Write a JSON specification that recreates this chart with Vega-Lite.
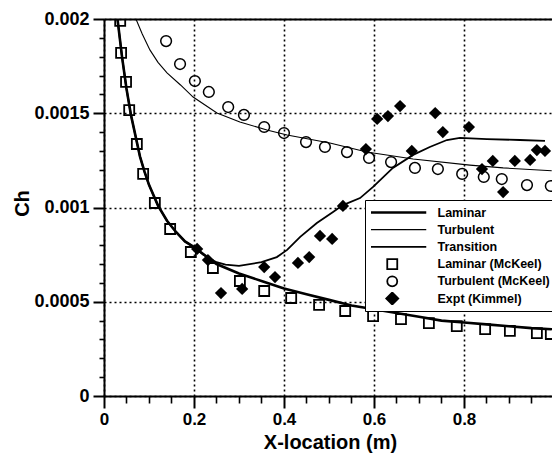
{
  "$schema": "https://vega.github.io/schema/vega-lite/v6.json",
  "width": 448,
  "height": 377,
  "autosize": "none",
  "padding": {"left": 104, "top": 19, "right": 0, "bottom": 61},
  "background": "white",
  "config": {"view": {"stroke": null}},
  "datasets": {
    "lines": [
      {"series": "Laminar", "x": 0.03, "ch": 0.002},
      {"series": "Laminar", "x": 0.04, "ch": 0.0018},
      {"series": "Laminar", "x": 0.05, "ch": 0.00163},
      {"series": "Laminar", "x": 0.06, "ch": 0.00149},
      {"series": "Laminar", "x": 0.07, "ch": 0.00138},
      {"series": "Laminar", "x": 0.08, "ch": 0.00127},
      {"series": "Laminar", "x": 0.09, "ch": 0.00119},
      {"series": "Laminar", "x": 0.1, "ch": 0.00112},
      {"series": "Laminar", "x": 0.12, "ch": 0.00101},
      {"series": "Laminar", "x": 0.14, "ch": 0.00093},
      {"series": "Laminar", "x": 0.16, "ch": 0.00087},
      {"series": "Laminar", "x": 0.18, "ch": 0.00082},
      {"series": "Laminar", "x": 0.2, "ch": 0.00079},
      {"series": "Laminar", "x": 0.25, "ch": 0.0007},
      {"series": "Laminar", "x": 0.3, "ch": 0.00065},
      {"series": "Laminar", "x": 0.35, "ch": 0.00061},
      {"series": "Laminar", "x": 0.4, "ch": 0.00057},
      {"series": "Laminar", "x": 0.45, "ch": 0.00054},
      {"series": "Laminar", "x": 0.5, "ch": 0.00051},
      {"series": "Laminar", "x": 0.55, "ch": 0.00048},
      {"series": "Laminar", "x": 0.6, "ch": 0.00046},
      {"series": "Laminar", "x": 0.65, "ch": 0.00044},
      {"series": "Laminar", "x": 0.7, "ch": 0.00042},
      {"series": "Laminar", "x": 0.75, "ch": 0.0004},
      {"series": "Laminar", "x": 0.8, "ch": 0.00039},
      {"series": "Laminar", "x": 0.85, "ch": 0.00038},
      {"series": "Laminar", "x": 0.9, "ch": 0.00037},
      {"series": "Laminar", "x": 0.95, "ch": 0.00036},
      {"series": "Laminar", "x": 0.995, "ch": 0.000354},
      {"series": "Turbulent", "x": 0.071, "ch": 0.002},
      {"series": "Turbulent", "x": 0.085, "ch": 0.00192},
      {"series": "Turbulent", "x": 0.102, "ch": 0.001836},
      {"series": "Turbulent", "x": 0.12, "ch": 0.00177},
      {"series": "Turbulent", "x": 0.14, "ch": 0.001714},
      {"series": "Turbulent", "x": 0.17, "ch": 0.00165},
      {"series": "Turbulent", "x": 0.198, "ch": 0.001586},
      {"series": "Turbulent", "x": 0.251, "ch": 0.001501},
      {"series": "Turbulent", "x": 0.302, "ch": 0.001454},
      {"series": "Turbulent", "x": 0.362, "ch": 0.001411},
      {"series": "Turbulent", "x": 0.407, "ch": 0.001385},
      {"series": "Turbulent", "x": 0.502, "ch": 0.001342},
      {"series": "Turbulent", "x": 0.584, "ch": 0.001294},
      {"series": "Turbulent", "x": 0.687, "ch": 0.001257},
      {"series": "Turbulent", "x": 0.813, "ch": 0.001225},
      {"series": "Turbulent", "x": 0.887, "ch": 0.00121},
      {"series": "Turbulent", "x": 0.995, "ch": 0.001195},
      {"series": "Transition", "x": 0.03, "ch": 0.002},
      {"series": "Transition", "x": 0.04, "ch": 0.0018},
      {"series": "Transition", "x": 0.05, "ch": 0.00163},
      {"series": "Transition", "x": 0.06, "ch": 0.00149},
      {"series": "Transition", "x": 0.07, "ch": 0.00138},
      {"series": "Transition", "x": 0.08, "ch": 0.00127},
      {"series": "Transition", "x": 0.09, "ch": 0.00119},
      {"series": "Transition", "x": 0.1, "ch": 0.00112},
      {"series": "Transition", "x": 0.12, "ch": 0.00101},
      {"series": "Transition", "x": 0.14, "ch": 0.00093},
      {"series": "Transition", "x": 0.16, "ch": 0.00087},
      {"series": "Transition", "x": 0.18, "ch": 0.00082},
      {"series": "Transition", "x": 0.2, "ch": 0.00079},
      {"series": "Transition", "x": 0.22, "ch": 0.00075},
      {"series": "Transition", "x": 0.25, "ch": 0.00071},
      {"series": "Transition", "x": 0.27, "ch": 0.000697},
      {"series": "Transition", "x": 0.3, "ch": 0.00069},
      {"series": "Transition", "x": 0.35, "ch": 0.00071},
      {"series": "Transition", "x": 0.384, "ch": 0.000737},
      {"series": "Transition", "x": 0.407, "ch": 0.000775},
      {"series": "Transition", "x": 0.436, "ch": 0.000844},
      {"series": "Transition", "x": 0.473, "ch": 0.000918},
      {"series": "Transition", "x": 0.509, "ch": 0.000976},
      {"series": "Transition", "x": 0.531, "ch": 0.001013},
      {"series": "Transition", "x": 0.569, "ch": 0.00105},
      {"series": "Transition", "x": 0.598, "ch": 0.001109},
      {"series": "Transition", "x": 0.642, "ch": 0.00121},
      {"series": "Transition", "x": 0.687, "ch": 0.001279},
      {"series": "Transition", "x": 0.724, "ch": 0.001321},
      {"series": "Transition", "x": 0.762, "ch": 0.001358},
      {"series": "Transition", "x": 0.791, "ch": 0.001369},
      {"series": "Transition", "x": 0.851, "ch": 0.001363},
      {"series": "Transition", "x": 0.924, "ch": 0.001358},
      {"series": "Transition", "x": 0.98, "ch": 0.001353}
    ],
    "points": [
      {"series": "Laminar (McKeel)", "x": 0.036, "ch": 0.00199},
      {"series": "Laminar (McKeel)", "x": 0.038, "ch": 0.00182},
      {"series": "Laminar (McKeel)", "x": 0.049, "ch": 0.001666},
      {"series": "Laminar (McKeel)", "x": 0.056, "ch": 0.001517},
      {"series": "Laminar (McKeel)", "x": 0.073, "ch": 0.001337},
      {"series": "Laminar (McKeel)", "x": 0.087, "ch": 0.001178},
      {"series": "Laminar (McKeel)", "x": 0.113, "ch": 0.001024},
      {"series": "Laminar (McKeel)", "x": 0.147, "ch": 0.000886},
      {"series": "Laminar (McKeel)", "x": 0.193, "ch": 0.000764},
      {"series": "Laminar (McKeel)", "x": 0.242, "ch": 0.000679},
      {"series": "Laminar (McKeel)", "x": 0.302, "ch": 0.00061},
      {"series": "Laminar (McKeel)", "x": 0.356, "ch": 0.000557},
      {"series": "Laminar (McKeel)", "x": 0.416, "ch": 0.00052},
      {"series": "Laminar (McKeel)", "x": 0.478, "ch": 0.000483},
      {"series": "Laminar (McKeel)", "x": 0.536, "ch": 0.000451},
      {"series": "Laminar (McKeel)", "x": 0.598, "ch": 0.000424},
      {"series": "Laminar (McKeel)", "x": 0.66, "ch": 0.000408},
      {"series": "Laminar (McKeel)", "x": 0.722, "ch": 0.000387},
      {"series": "Laminar (McKeel)", "x": 0.784, "ch": 0.000371},
      {"series": "Laminar (McKeel)", "x": 0.847, "ch": 0.000355},
      {"series": "Laminar (McKeel)", "x": 0.902, "ch": 0.000345},
      {"series": "Laminar (McKeel)", "x": 0.962, "ch": 0.000334},
      {"series": "Laminar (McKeel)", "x": 0.993, "ch": 0.000329},
      {"series": "Turbulent (McKeel)", "x": 0.138, "ch": 0.001883},
      {"series": "Turbulent (McKeel)", "x": 0.169, "ch": 0.001761},
      {"series": "Turbulent (McKeel)", "x": 0.202, "ch": 0.001671},
      {"series": "Turbulent (McKeel)", "x": 0.233, "ch": 0.001613},
      {"series": "Turbulent (McKeel)", "x": 0.276, "ch": 0.001533},
      {"series": "Turbulent (McKeel)", "x": 0.311, "ch": 0.001491},
      {"series": "Turbulent (McKeel)", "x": 0.356, "ch": 0.001427},
      {"series": "Turbulent (McKeel)", "x": 0.4, "ch": 0.001395},
      {"series": "Turbulent (McKeel)", "x": 0.449, "ch": 0.001347},
      {"series": "Turbulent (McKeel)", "x": 0.491, "ch": 0.001321},
      {"series": "Turbulent (McKeel)", "x": 0.54, "ch": 0.001294},
      {"series": "Turbulent (McKeel)", "x": 0.589, "ch": 0.001263},
      {"series": "Turbulent (McKeel)", "x": 0.638, "ch": 0.001241},
      {"series": "Turbulent (McKeel)", "x": 0.691, "ch": 0.00121},
      {"series": "Turbulent (McKeel)", "x": 0.742, "ch": 0.001204},
      {"series": "Turbulent (McKeel)", "x": 0.796, "ch": 0.001178},
      {"series": "Turbulent (McKeel)", "x": 0.844, "ch": 0.001162},
      {"series": "Turbulent (McKeel)", "x": 0.884, "ch": 0.001151},
      {"series": "Turbulent (McKeel)", "x": 0.94, "ch": 0.001119},
      {"series": "Turbulent (McKeel)", "x": 0.993, "ch": 0.001114},
      {"series": "Expt (Kimmel)", "x": 0.207, "ch": 0.00078},
      {"series": "Expt (Kimmel)", "x": 0.231, "ch": 0.000721},
      {"series": "Expt (Kimmel)", "x": 0.26, "ch": 0.000546},
      {"series": "Expt (Kimmel)", "x": 0.307, "ch": 0.000568},
      {"series": "Expt (Kimmel)", "x": 0.356, "ch": 0.000684},
      {"series": "Expt (Kimmel)", "x": 0.38, "ch": 0.000631},
      {"series": "Expt (Kimmel)", "x": 0.431, "ch": 0.000706},
      {"series": "Expt (Kimmel)", "x": 0.456, "ch": 0.000737},
      {"series": "Expt (Kimmel)", "x": 0.48, "ch": 0.000849},
      {"series": "Expt (Kimmel)", "x": 0.507, "ch": 0.000833},
      {"series": "Expt (Kimmel)", "x": 0.531, "ch": 0.001008},
      {"series": "Expt (Kimmel)", "x": 0.582, "ch": 0.00131},
      {"series": "Expt (Kimmel)", "x": 0.607, "ch": 0.00147},
      {"series": "Expt (Kimmel)", "x": 0.631, "ch": 0.001485},
      {"series": "Expt (Kimmel)", "x": 0.658, "ch": 0.001538},
      {"series": "Expt (Kimmel)", "x": 0.684, "ch": 0.0013},
      {"series": "Expt (Kimmel)", "x": 0.736, "ch": 0.001501},
      {"series": "Expt (Kimmel)", "x": 0.753, "ch": 0.0014},
      {"series": "Expt (Kimmel)", "x": 0.811, "ch": 0.001427},
      {"series": "Expt (Kimmel)", "x": 0.84, "ch": 0.001204},
      {"series": "Expt (Kimmel)", "x": 0.864, "ch": 0.001247},
      {"series": "Expt (Kimmel)", "x": 0.887, "ch": 0.001082},
      {"series": "Expt (Kimmel)", "x": 0.913, "ch": 0.001247},
      {"series": "Expt (Kimmel)", "x": 0.947, "ch": 0.001252},
      {"series": "Expt (Kimmel)", "x": 0.962, "ch": 0.001305},
      {"series": "Expt (Kimmel)", "x": 0.98, "ch": 0.0013}
    ]
  },
  "layer": [
    {
      "data": {"name": "lines"},
      "transform": [{"filter": "datum.series == 'Laminar'"}],
      "mark": {"type": "line", "strokeWidth": 2.6, "clip": true},
      "encoding": {
        "x": {
          "field": "x", "type": "quantitative",
          "scale": {"domain": [0, 0.9956], "nice": false, "zero": false},
          "axis": {
            "orient": "bottom",
            "values": [0, 0.2, 0.4, 0.6, 0.8],
            "format": ".1~f",
            "grid": true, "gridColor": "black", "gridDash": [2, 3], "gridWidth": 1.6, "gridOpacity": 1,
            "domainColor": "black", "domainWidth": 2,
            "tickColor": "black", "tickWidth": 2, "tickSize": 12,
            "labelFont": "Liberation Sans", "labelFontWeight": "bold", "labelFontSize": 17, "labelColor": "black",
            "labelPadding": 3, "labelFlush": false, "labelOverlap": false,
            "title": "X-location (m)",
            "titleFont": "Liberation Sans", "titleFontWeight": "bold", "titleFontSize": 20, "titleColor": "black",
            "titleX": 226, "titleY": 46, "titleAlign": "center", "titleBaseline": "middle"
          }
        },
        "y": {
          "field": "ch", "type": "quantitative",
          "scale": {"domain": [0, 0.002], "nice": false},
          "axis": {
            "orient": "left",
            "values": [0, 0.0005, 0.001, 0.0015, 0.002],
            "format": ".4~f",
            "grid": true, "gridColor": "black", "gridDash": [2, 3], "gridWidth": 1.6, "gridOpacity": 1,
            "domainColor": "black", "domainWidth": 2,
            "tickColor": "black", "tickWidth": 2, "tickSize": 11,
            "labelFont": "Liberation Sans", "labelFontWeight": "bold", "labelFontSize": 18, "labelColor": "black",
            "labelPadding": 4, "labelFlush": false, "labelOverlap": false,
            "title": "Ch",
            "titleFont": "Liberation Sans", "titleFontWeight": "bold", "titleFontSize": 20, "titleColor": "black",
            "titleX": -82, "titleY": 184, "titleAlign": "center", "titleBaseline": "middle", "titleAngle": -90
          }
        },
        "color": {
          "field": "series", "type": "nominal",
          "scale": {
            "domain": ["Laminar", "Turbulent", "Transition", "Laminar (McKeel)", "Turbulent (McKeel)", "Expt (Kimmel)"],
            "range": ["black", "black", "black", "black", "black", "black"]
          },
          "legend": {
            "orient": "none", "legendX": 261, "legendY": 181, "title": null,
            "fillColor": "white", "strokeColor": "black", "padding": 6,
            "symbolSize": 100, "labelOffset": 54, "rowPadding": 4.2, "clipHeight": 13,
            "labelFont": "Liberation Sans", "labelFontSize": 12.5, "labelFontWeight": "bold", "labelColor": "black",
            "encode": {
              "symbols": {
                "update": {
                  "shape": {"signal": "indexof(['Laminar','Turbulent','Transition'], datum.value) >= 0 ? 'M-1.6,0H9.8' : datum.value == 'Laminar (McKeel)' ? 'M2,-1H4V1H2Z' : datum.value == 'Turbulent (McKeel)' ? 'M4,0A1,1,0,1,1,2,0A1,1,0,1,1,4,0Z' : 'M3,-1.2L4.2,0L3,1.2L1.8,0Z'"},
                  "strokeWidth": {"signal": "datum.value == 'Laminar' ? 2.6 : datum.value == 'Turbulent' ? 1.2 : 1.8"},
                  "fill": {"signal": "datum.value == 'Expt (Kimmel)' ? 'black' : 'white'"},
                  "fillOpacity": {"signal": "datum.value == 'Expt (Kimmel)' ? 1 : 0"},
                  "stroke": {"value": "black"},
                  "opacity": {"value": 1}
                }
              }
            }
          }
        }
      }
    },
    {
      "data": {"name": "lines"},
      "transform": [{"filter": "datum.series == 'Turbulent'"}],
      "mark": {"type": "line", "strokeWidth": 1.1, "clip": true},
      "encoding": {
        "x": {
          "field": "x", "type": "quantitative",
          "axis": {
            "orient": "bottom",
            "values": [0.05, 0.1, 0.15, 0.25, 0.3, 0.35, 0.45, 0.5, 0.55, 0.65, 0.7, 0.75, 0.85, 0.9, 0.95],
            "labels": false, "grid": false, "domain": false,
            "tickColor": "black", "tickWidth": 1.6, "tickSize": 7, "title": null
          }
        },
        "y": {
          "field": "ch", "type": "quantitative",
          "axis": {
            "orient": "left",
            "values": [0.0001, 0.0002, 0.0003, 0.0004, 0.0006, 0.0007, 0.0008, 0.0009, 0.0011, 0.0012, 0.0013, 0.0014, 0.0016, 0.0017, 0.0018, 0.0019],
            "labels": false, "grid": false, "domain": false,
            "tickColor": "black", "tickWidth": 1.6, "tickSize": 5, "title": null
          }
        },
        "color": {"field": "series", "type": "nominal"}
      }
    },
    {
      "data": {"name": "lines"},
      "transform": [{"filter": "datum.series == 'Transition'"}],
      "mark": {"type": "line", "strokeWidth": 1.8, "clip": true},
      "encoding": {
        "x": {
          "field": "x", "type": "quantitative",
          "axis": {
            "orient": "top", "labels": false, "ticks": false, "grid": false,
            "domain": true, "domainColor": "black", "domainWidth": 2, "title": null
          }
        },
        "y": {"field": "ch", "type": "quantitative", "axis": null},
        "color": {"field": "series", "type": "nominal"}
      }
    },
    {
      "data": {"name": "points"},
      "transform": [{"filter": "datum.series == 'Laminar (McKeel)'"}],
      "mark": {"type": "point", "shape": "square", "filled": false, "size": 100, "strokeWidth": 1.8, "opacity": 1, "clip": true},
      "encoding": {
        "x": {"field": "x", "type": "quantitative", "axis": null},
        "y": {"field": "ch", "type": "quantitative", "axis": null},
        "color": {"field": "series", "type": "nominal"}
      }
    },
    {
      "data": {"name": "points"},
      "transform": [{"filter": "datum.series == 'Turbulent (McKeel)'"}],
      "mark": {"type": "point", "shape": "circle", "filled": false, "size": 115, "strokeWidth": 1.5, "opacity": 1, "clip": true},
      "encoding": {
        "x": {"field": "x", "type": "quantitative", "axis": null},
        "y": {"field": "ch", "type": "quantitative", "axis": null},
        "color": {"field": "series", "type": "nominal"}
      }
    },
    {
      "data": {"name": "points"},
      "transform": [{"filter": "datum.series == 'Expt (Kimmel)'"}],
      "mark": {"type": "point", "shape": "diamond", "filled": true, "size": 150, "opacity": 1, "clip": true},
      "encoding": {
        "x": {"field": "x", "type": "quantitative", "axis": null},
        "y": {"field": "ch", "type": "quantitative", "axis": null},
        "color": {"field": "series", "type": "nominal"}
      }
    }
  ],
  "resolve": {"axis": {"x": "independent", "y": "independent"}}
}
